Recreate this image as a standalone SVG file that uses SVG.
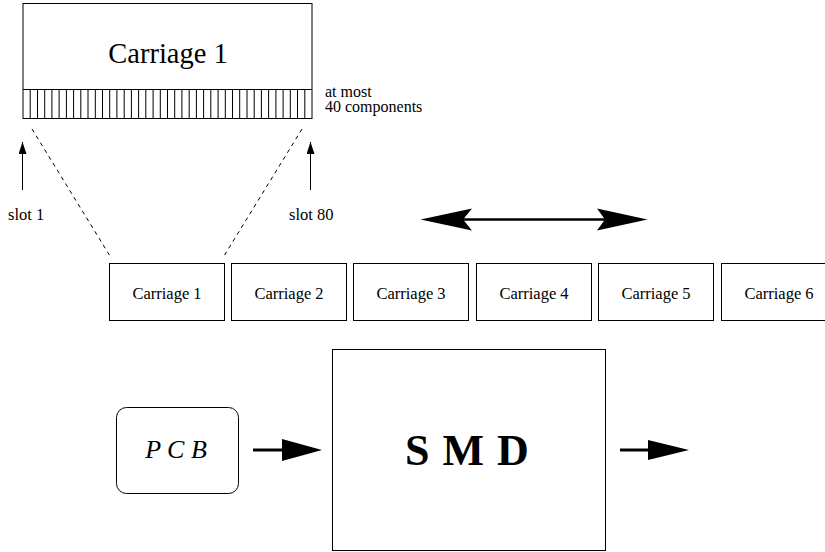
<svg xmlns="http://www.w3.org/2000/svg" width="825" height="552" viewBox="0 0 825 552" font-family="'Liberation Serif', 'DejaVu Serif', serif">
<defs>
<style>
text{font-family:"Liberation Serif","DejaVu Serif",serif;fill:#000}
.box{fill:#fff;stroke:#000;stroke-width:1}
.lbl{font-size:16.5px;text-anchor:middle}
.thin{stroke:#000;stroke-width:1;fill:none}
.dash{stroke:#000;stroke-width:1;fill:none;stroke-dasharray:4 4}
.slots line{stroke:#000;stroke-width:1}
</style>
<marker id="up" markerWidth="12" markerHeight="8" viewBox="0 0 12 8" refX="12" refY="4" orient="auto" markerUnits="userSpaceOnUse">
<path d="M0 0 L12 4 L0 8 Z" fill="#000"/>
</marker>
</defs>

<g id="carriage-detail">
<rect class="box" x="23" y="3.5" width="289" height="115"/>
<line class="thin" x1="23" y1="89.5" x2="312" y2="89.5"/>
<g class="slots">
<line x1="30.2" y1="89.5" x2="30.2" y2="118.5"/><line x1="37.5" y1="89.5" x2="37.5" y2="118.5"/><line x1="44.7" y1="89.5" x2="44.7" y2="118.5"/><line x1="51.9" y1="89.5" x2="51.9" y2="118.5"/><line x1="59.1" y1="89.5" x2="59.1" y2="118.5"/><line x1="66.4" y1="89.5" x2="66.4" y2="118.5"/><line x1="73.6" y1="89.5" x2="73.6" y2="118.5"/><line x1="80.8" y1="89.5" x2="80.8" y2="118.5"/><line x1="88.0" y1="89.5" x2="88.0" y2="118.5"/><line x1="95.3" y1="89.5" x2="95.3" y2="118.5"/>
<line x1="102.5" y1="89.5" x2="102.5" y2="118.5"/><line x1="109.7" y1="89.5" x2="109.7" y2="118.5"/><line x1="116.9" y1="89.5" x2="116.9" y2="118.5"/><line x1="124.2" y1="89.5" x2="124.2" y2="118.5"/><line x1="131.4" y1="89.5" x2="131.4" y2="118.5"/><line x1="138.6" y1="89.5" x2="138.6" y2="118.5"/><line x1="145.8" y1="89.5" x2="145.8" y2="118.5"/><line x1="153.1" y1="89.5" x2="153.1" y2="118.5"/><line x1="160.3" y1="89.5" x2="160.3" y2="118.5"/><line x1="167.5" y1="89.5" x2="167.5" y2="118.5"/>
<line x1="174.7" y1="89.5" x2="174.7" y2="118.5"/><line x1="181.9" y1="89.5" x2="181.9" y2="118.5"/><line x1="189.2" y1="89.5" x2="189.2" y2="118.5"/><line x1="196.4" y1="89.5" x2="196.4" y2="118.5"/><line x1="203.6" y1="89.5" x2="203.6" y2="118.5"/><line x1="210.8" y1="89.5" x2="210.8" y2="118.5"/><line x1="218.1" y1="89.5" x2="218.1" y2="118.5"/><line x1="225.3" y1="89.5" x2="225.3" y2="118.5"/><line x1="232.5" y1="89.5" x2="232.5" y2="118.5"/><line x1="239.7" y1="89.5" x2="239.7" y2="118.5"/>
<line x1="247.0" y1="89.5" x2="247.0" y2="118.5"/><line x1="254.2" y1="89.5" x2="254.2" y2="118.5"/><line x1="261.4" y1="89.5" x2="261.4" y2="118.5"/><line x1="268.6" y1="89.5" x2="268.6" y2="118.5"/><line x1="275.9" y1="89.5" x2="275.9" y2="118.5"/><line x1="283.1" y1="89.5" x2="283.1" y2="118.5"/><line x1="290.3" y1="89.5" x2="290.3" y2="118.5"/><line x1="297.5" y1="89.5" x2="297.5" y2="118.5"/><line x1="304.8" y1="89.5" x2="304.8" y2="118.5"/>
</g>
<text x="168" y="63" font-size="28.5" text-anchor="middle" font-family="Liberation Serif">Carriage 1</text>
<text x="325" y="96.5" font-size="16" font-family="Liberation Serif">at most</text>
<text x="325" y="112" font-size="16" font-family="Liberation Serif">40 components</text>
</g>

<g id="slot1">
<text x="8" y="220" font-size="16.5" font-family="Liberation Serif">slot 1</text>
</g>
<g id="slot80">
<text x="289" y="220" font-size="16.5" font-family="Liberation Serif">slot 80</text>
</g>

<g id="carriage1"><rect class="box" x="109.5" y="263.5" width="115" height="57"/><text class="lbl" x="167" y="299" font-family="Liberation Serif">Carriage 1</text></g>
<g id="carriage2"><rect class="box" x="231.5" y="263.5" width="115" height="57"/><text class="lbl" x="289" y="299" font-family="Liberation Serif">Carriage 2</text></g>
<g id="carriage3"><rect class="box" x="353.5" y="263.5" width="115" height="57"/><text class="lbl" x="411" y="299" font-family="Liberation Serif">Carriage 3</text></g>
<g id="carriage4"><rect class="box" x="476.5" y="263.5" width="115" height="57"/><text class="lbl" x="534" y="299" font-family="Liberation Serif">Carriage 4</text></g>
<g id="carriage5"><rect class="box" x="598.5" y="263.5" width="115" height="57"/><text class="lbl" x="656" y="299" font-family="Liberation Serif">Carriage 5</text></g>
<g id="carriage6"><rect class="box" x="721.5" y="263.5" width="115" height="57"/><text class="lbl" x="779" y="299" font-family="Liberation Serif">Carriage 6</text></g>

<g id="pcb"><rect class="box" x="116.5" y="407.5" width="122" height="86" rx="10" ry="10"/><text x="176" y="458" font-size="26" font-style="italic" text-anchor="middle" font-family="Liberation Serif">P C B</text></g>
<g id="smd"><rect class="box" x="332.5" y="349.5" width="273" height="201"/><text x="467" y="465" font-size="44" font-weight="bold" word-spacing="2" text-anchor="middle" font-family="Liberation Serif">S M D</text></g>

<g id="connectors">
<line class="thin" x1="22.5" y1="190" x2="22.5" y2="142" marker-end="url(#up)"/>
<line class="thin" x1="310.5" y1="190" x2="310.5" y2="142" marker-end="url(#up)"/>
<line class="dash" x1="32" y1="129" x2="110" y2="256"/>
<line class="dash" x1="302" y1="129" x2="224" y2="256"/>
<line x1="462" y1="219.5" x2="606" y2="219.5" stroke="#000" stroke-width="2.5"/>
<path d="M420.5 219.5 L472 208.5 L463 219.5 L472 230.5 Z" fill="#000"/>
<path d="M647.5 219.5 L597 208.5 L605 219.5 L597 230.5 Z" fill="#000"/>
<line x1="253" y1="450" x2="284" y2="450" stroke="#000" stroke-width="3"/>
<path d="M322 450 L282 439 L282 461 Z" fill="#000"/>
<line x1="620" y1="450" x2="650" y2="450" stroke="#000" stroke-width="3"/>
<path d="M689 450 L648 440 L648 460 Z" fill="#000"/>
</g>
</svg>
